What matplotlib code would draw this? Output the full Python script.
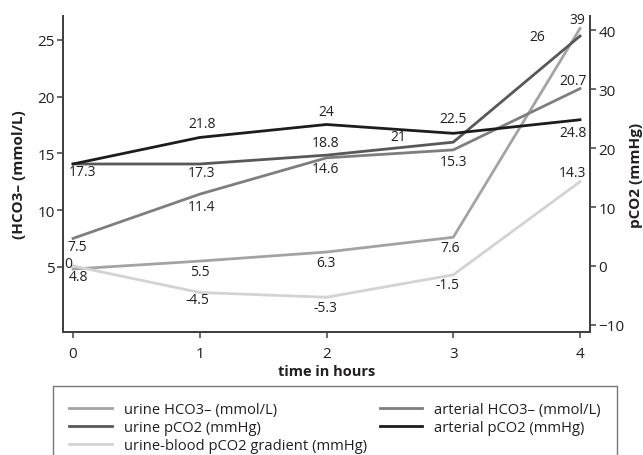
import matplotlib
matplotlib.use('Agg')
import matplotlib.pyplot as plt

plt.rcParams['font.family'] = ['Open Sans', 'DejaVu Sans']

# data
hours = [0, 1, 2, 3, 4]
urine_hco3 = [4.8, 5.5, 6.3, 7.6, 26]
arterial_hco3 = [7.5, 11.4, 14.6, 15.3, 20.7]
urine_pco2 = [17.3, 17.3, 18.8, 21, 39]
arterial_pco2 = [17.3, 21.8, 24, 22.5, 24.8]
gradient_pco2 = [0, -4.5, -5.3, -1.5, 14.3]

# label offsets in screen pixels, y down (None = no label)
off_urine_hco3 = [(5, 7), (0, 10), (-1, 10), (-3, 10), (-43, 8)]
off_art_hco3 = [(4, 8), (2, 12), (-1, 11), (0, 12), (-7, -8)]
off_urine_pco2 = [(10, 8), (2, 9), (-1, -13), (-55, -6), (-3, -17)]
off_art_pco2 = [None, (2, -14), (0, -13), (0, -15), (-7, 13)]
off_grad = [(-5, -2), (-2, 7), (-1, 10), (-6, 10), (-8, -9)]

c_urine_hco3 = '#a3a3a3'
c_art_hco3 = '#7e7e7e'
c_urine_pco2 = '#585858'
c_art_pco2 = '#1c1c1c'
c_grad = '#d3d3d3'
spine_c = '#404040'
text_c = '#231f20'

fig = plt.figure(figsize=(6.43, 4.56), dpi=100)
ax = fig.add_axes([0.098, 0.2697, 0.8196, 0.693])
ax2 = ax.twinx()

lw = 2.0
l1, = ax.plot(hours, urine_hco3, color=c_urine_hco3, lw=lw, label='urine HCO3– (mmol/L)', zorder=3)
l2, = ax.plot(hours, arterial_hco3, color=c_art_hco3, lw=lw, label='arterial HCO3– (mmol/L)', zorder=3)
l3, = ax2.plot(hours, urine_pco2, color=c_urine_pco2, lw=lw, label='urine pCO2 (mmHg)', zorder=3)
l4, = ax2.plot(hours, arterial_pco2, color=c_art_pco2, lw=lw, label='arterial pCO2 (mmHg)', zorder=3)
l5, = ax2.plot(hours, gradient_pco2, color=c_grad, lw=lw, label='urine-blood pCO2 gradient (mmHg)', zorder=2)


def put_labels(axis, xs, ys, offs):
    for x, y, o in zip(xs, ys, offs):
        if o is None:
            continue
        axis.annotate(f'{y:g}', (x, y), xytext=(o[0], -o[1]), textcoords='offset pixels',
                      ha='center', va='center', fontsize=10, color=text_c)


put_labels(ax, hours, urine_hco3, off_urine_hco3)
put_labels(ax, hours, arterial_hco3, off_art_hco3)
put_labels(ax2, hours, urine_pco2, off_urine_pco2)
put_labels(ax2, hours, arterial_pco2, off_art_pco2)
put_labels(ax2, hours, gradient_pco2, off_grad)

ax.set_xlim(-0.079, 4.079)
ax.set_ylim(-0.75, 27.1)
ax2.set_ylim(-11.2, 42.4)
ax.set_xticks(hours)
ax.set_yticks([5, 10, 15, 20, 25])
ax2.set_yticks([-10, 0, 10, 20, 30, 40])

for a in (ax, ax2):
    a.spines['top'].set_visible(False)
    for s in ('left', 'right', 'bottom'):
        a.spines[s].set_color(spine_c)
        a.spines[s].set_linewidth(1.3)
    a.tick_params(direction='out', length=4, width=1.1, color=spine_c,
                  labelsize=11, labelcolor=text_c, pad=2)
ax.tick_params(axis='x', pad=6)

ax.set_xlabel('time in hours', fontsize=10.5, fontweight='bold', color=text_c, labelpad=2)
ax.set_ylabel('(HCO3– (mmol/L)', fontsize=11, fontweight='bold', color=text_c, labelpad=8)
ax2.set_ylabel('pCO2 (mmHg)', fontsize=11, fontweight='bold', color=text_c, labelpad=3)

handles = [l1, l3, l5, l2, l4]
leg = fig.legend(handles, [h.get_label() for h in handles], ncol=2, mode='expand',
                 loc='upper left', bbox_to_anchor=(0.0824, -0.2, 0.877, 0.351),
                 fontsize=10.6, frameon=True, fancybox=False, borderaxespad=0,
                 handlelength=2.9, handletextpad=0.8, labelspacing=0.2,
                 borderpad=1.1)
leg.get_frame().set_edgecolor('#555555')
leg.get_frame().set_linewidth(1.0)
for t in leg.get_texts():
    t.set_color(text_c)

plt.savefig('out.png', dpi=100)
